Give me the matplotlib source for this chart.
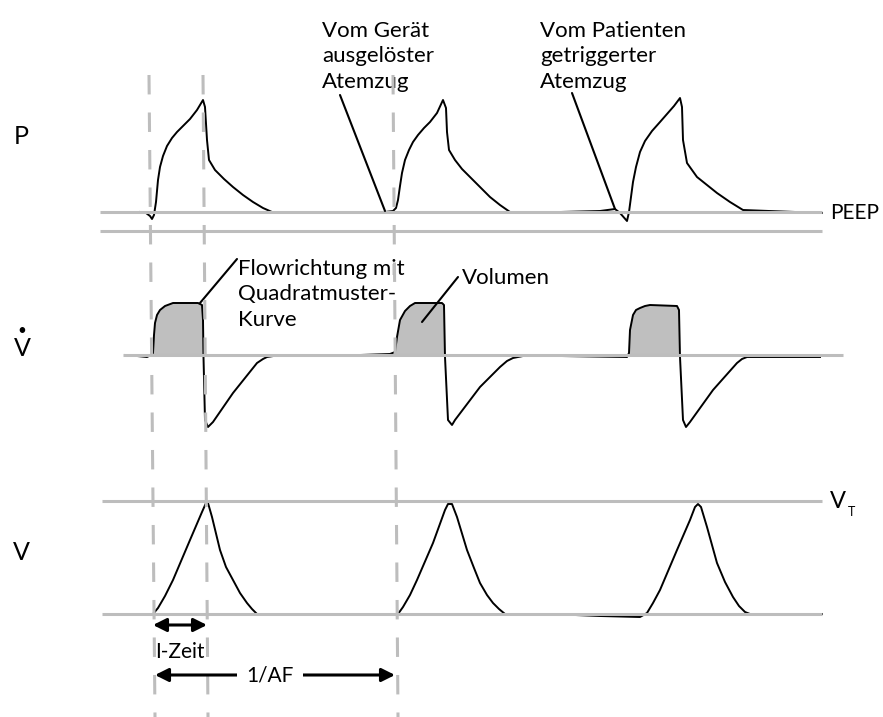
import matplotlib
matplotlib.use("Agg")
import numpy as np
import matplotlib.pyplot as plt

plt.rcParams['font.family'] = ['Lato', 'DejaVu Sans']
plt.rcParams['lines.scale_dashes'] = False

# ---- waveform samples read off the schematic ----
# time axis in arbitrary units (same scale for all three traces),
# amplitude = height above the trace's own baseline
p_time = [140, 146, 150, 152, 154, 156, 158, 160, 163, 167, 172, 177, 184, 190, 197, 203, 205, 207, 209, 215, 224, 233, 243, 253, 263, 272,
          385, 393, 396, 398, 400, 402, 405, 409, 413, 418, 424, 430, 437, 443, 446, 447, 449, 455, 462, 470, 480, 490, 500, 510,
          560, 600, 615, 620, 627, 629, 631, 633, 636, 640, 645, 652, 660, 667, 674, 680, 682, 683, 687, 697, 707, 717, 730, 743, 822]
p_amp = [0, -1, -4, -7, -3, 10, 32, 45, 56, 66, 74, 80, 87, 93, 102, 112, 105, 72, 52, 42, 33, 25, 17, 10, 4, 0,
         0, 1, 4, 12, 26, 39, 52, 62, 70, 77, 84, 90, 99, 112, 104, 80, 62, 52, 43, 35, 25, 15, 7, 0,
         0, 1, 3, -1, -9, 0, 15, 30, 45, 60, 71, 81, 90, 98, 106, 114, 105, 72, 49, 35, 27, 19, 10, 2, -1]

flow_time = [125, 137, 147, 151, 153, 154, 155, 157, 160, 165, 173, 198, 202, 203, 203.5, 205, 208, 213, 233, 257, 263, 267, 280,
             360, 390, 395, 397, 400, 405, 410, 415, 442, 444, 445, 448, 452, 455, 480, 500, 507, 513, 523,
             560, 627, 629, 630, 633, 636, 640, 645, 650, 677, 679, 680, 683, 686, 690, 713, 737, 742, 747, 820]
flow_amp = [0, -1, -2, 0, 2, 20, 32, 40, 45, 49, 52, 52, 50, 35, -2, -65, -72, -67, -38, -8, -4, -2, 0,
            0, 1, 3, 18, 35, 44, 49, 52, 52, 50, -2, -65, -70, -65, -32, -12, -6, -3, -1,
            -1, -2, 2, 25, 40, 45, 47, 49, 50, 49, 45, -2, -65, -72, -67, -35, -8, -4, -2, -2]

vol_time = [140, 153, 158, 165, 173, 190, 202, 206, 208, 212, 220, 226, 233, 240, 247, 252, 257,
            280, 330, 398, 403, 410, 417, 433, 445, 448, 452, 457, 467, 474, 480, 487, 493, 499, 505,
            550, 600, 640, 647, 653, 660, 677, 690, 695, 698, 701, 707, 717, 725, 733, 739, 745, 750, 783, 822]
vol_amp = [0, 0, 6, 18, 34, 74, 102, 111, 111, 97, 64, 47, 34, 21, 11, 5, 0,
           0, 0, 0, 7, 19, 34, 71, 104, 110, 110, 97, 64, 46, 31, 19, 11, 5, 0,
           0, -2, -3, 1, 11, 24, 64, 94, 107, 110, 107, 87, 51, 32, 17, 8, 2, 0, -1, 0]

# reference levels
p_peep_level = 0
p_zero_level = -19
vt_level = 113

# breath markers (start of breath 1, end of inspiration, start of breath 2)
marker_x_top = [149, 203, 393]
marker_x_bottom = [155, 208, 398]

GRAY = '#bdbdbd'
FILL = '#bfbfbf'
W, H = 883, 717

fig = plt.figure(figsize=(W / 100, H / 100), dpi=100)


def trace_axes(baseline_px):
    ax = fig.add_axes([0, 0, 1, 1])
    ax.set_xlim(0, W)
    ax.set_ylim(baseline_px - H, baseline_px)
    ax.patch.set_alpha(0)
    ax.axis('off')
    return ax


ax_p = trace_axes(212)
ax_f = trace_axes(355)
ax_v = trace_axes(614)

# pressure
ax_p.plot(p_time, p_amp, color='black', lw=1.4, zorder=2)
ax_p.hlines([p_peep_level, p_zero_level], 100, 822, color=GRAY, lw=2.2, zorder=3)

# flow
ft = np.array(flow_time)
fa = np.array(flow_amp)
ax_f.fill_between(ft, fa, 0, where=fa > 0, interpolate=True, color=FILL, lw=0, zorder=1)
ax_f.plot(ft, fa, color='black', lw=1.4, zorder=2)
ax_f.hlines(0, 123, 843, color=GRAY, lw=2.2, zorder=3)

# volume
ax_v.plot(vol_time, vol_amp, color='black', lw=1.4, zorder=2)
ax_v.hlines([0, vt_level], 102, 822, color=GRAY, lw=2.2, zorder=3)

# overlay in pixel space for markers and labels
ov = fig.add_axes([0, 0, 1, 1])
ov.set_xlim(0, W)
ov.set_ylim(H, 0)
ov.patch.set_alpha(0)
ov.axis('off')

for xt, xb in zip(marker_x_top, marker_x_bottom):
    ov.plot([xt, xb], [75, H], color=GRAY, lw=2.2, dashes=(14, 13), zorder=5)

fs = 16
ov.text(21, 137, 'P', fontsize=18, ha='center', va='center')
ov.text(22, 349, 'V', fontsize=18, ha='center', va='center')
ov.text(22, 331, '•', fontsize=11, ha='center', va='center')
ov.text(21, 553, 'V', fontsize=18, ha='center', va='center')

ov.text(830, 219, 'PEEP', fontsize=15, va='baseline')
ov.text(830, 508, 'V', fontsize=17, va='baseline')
ov.text(848, 516, 'T', fontsize=9, va='baseline')

# multi-line labels: y is the baseline of the last line
ov.text(322, 88, 'Vom Gerät\nausgelöster\nAtemzug', fontsize=fs, va='baseline', linespacing=1.35)
ov.text(540, 88, 'Vom Patienten\ngetriggerter\nAtemzug', fontsize=fs, va='baseline', linespacing=1.35)
ov.text(238, 326, 'Flowrichtung mit\nQuadratmuster-\nKurve', fontsize=fs, va='baseline', linespacing=1.35)
ov.text(462, 284, 'Volumen', fontsize=fs, va='baseline')

leader = dict(arrowstyle='-', color='black', lw=1.5, shrinkA=0, shrinkB=0)
ax_p.annotate('', xy=(385, 1), xycoords='data', xytext=(340, 95), textcoords=ov.transData, arrowprops=leader)
ax_p.annotate('', xy=(615, 3), xycoords='data', xytext=(572, 93), textcoords=ov.transData, arrowprops=leader)
ax_f.annotate('', xy=(200, 52), xycoords='data', xytext=(237, 259), textcoords=ov.transData, arrowprops=leader)
ax_f.annotate('', xy=(422, 33), xycoords='data', xytext=(458, 277), textcoords=ov.transData, arrowprops=leader)

arrow = dict(arrowstyle='<|-|>', color='black', lw=2.2, mutation_scale=20, shrinkA=0, shrinkB=0)
ov.annotate('', xy=(marker_x_bottom[1] - 1, 625), xytext=(marker_x_bottom[0] - 2, 625), arrowprops=arrow, zorder=6)
ov.text(155, 658, 'I-Zeit', fontsize=15, va='baseline', zorder=7)
ov.annotate('', xy=(marker_x_bottom[2] - 3, 675), xytext=(marker_x_bottom[0], 675), arrowprops=arrow, zorder=6)
ov.text(270, 675, '1/AF', fontsize=15, ha='center', va='center', zorder=7,
        bbox=dict(facecolor='white', edgecolor='none', pad=7))

fig.savefig('out.png', dpi=100)
